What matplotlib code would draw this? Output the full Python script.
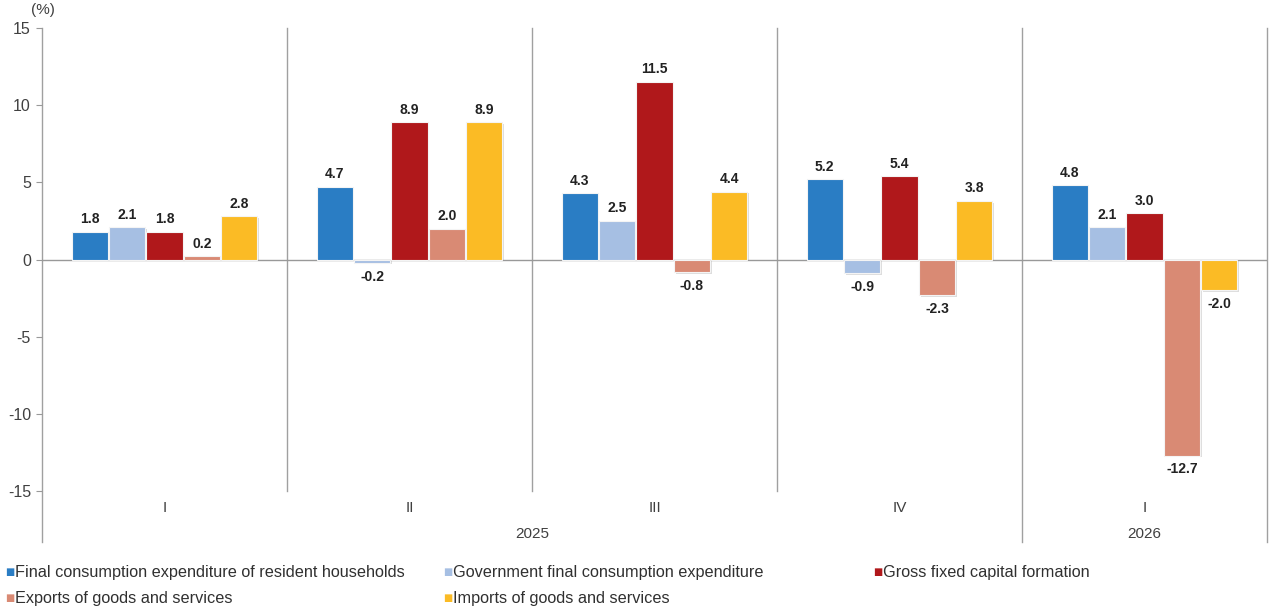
import numpy as np
import matplotlib.pyplot as plt
import matplotlib.patheffects as pe

plt.rcParams['font.family'] = ['Liberation Sans', 'DejaVu Sans']

# --- Data ---
quarters = ['I', 'II', 'III', 'IV', 'I']
years = ['2025', '2026']
series_names = ['Final consumption expenditure of resident households',
                'Government final consumption expenditure',
                'Gross fixed capital formation',
                'Exports of goods and services',
                'Imports of goods and services']
households = [1.8, 4.7, 4.3, 5.2, 4.8]
government = [2.1, -0.2, 2.5, -0.9, 2.1]
gfcf = [1.8, 8.9, 11.5, 5.4, 3.0]
exports = [0.2, 2.0, -0.8, -2.3, -12.7]
imports = [2.8, 8.9, 4.4, 3.8, -2.0]
colors = ['#2a7dc4', '#a6bfe3', '#b0181b', '#d98a74', '#fbbb25']

series = [households, government, gfcf, exports, imports]

# --- Figure ---
fig = plt.figure(figsize=(12.8, 6.11), dpi=100)
ax = fig.add_axes([42 / 1280, 1 - 491 / 611, 1225 / 1280, 463 / 611])

x = np.arange(len(quarters))
slot = 0.153
width = 0.147
shadow = [pe.SimplePatchShadow(offset=(1.2, -1.2), shadow_rgbFace='#909090', alpha=0.3), pe.Normal()]

for j, vals in enumerate(series):
    pos = x + (j - 2) * slot
    bars = ax.bar(pos, vals, width, color=colors[j], edgecolor='#f4f4f4', linewidth=0.8, zorder=3)
    for b in bars:
        b.set_path_effects(shadow)
    for xp, v in zip(pos, vals):
        if v >= 0:
            ax.annotate(f'{v:.1f}', (xp, v), xytext=(0, 4), textcoords='offset points',
                        ha='center', va='bottom', fontsize=10, fontweight='bold', color='#222222')
        else:
            ax.annotate(f'{v:.1f}', (xp, v), xytext=(0, -5), textcoords='offset points',
                        ha='center', va='top', fontsize=10, fontweight='bold', color='#222222')

ax.set_xlim(-0.5, len(quarters) - 0.5)
ax.set_ylim(-15, 15)
ax.set_yticks([-15, -10, -5, 0, 5, 10, 15])
ax.set_yticklabels(['-15', '-10', '-5', '0', '5', '10', '15'])
ax.tick_params(axis='y', length=4, width=0.8, color='#999999', labelsize=11.5, labelcolor='#404040', pad=4)
ax.set_xticks([])
for s in ax.spines.values():
    s.set_visible(False)

# zero line
ax.axhline(0, color='#999999', lw=1, zorder=2)

# frame / separators
xt = ax.get_xaxis_transform()
line_kw = dict(color='#a0a0a0', lw=1, transform=xt, clip_on=False, zorder=1)
ax.plot([-0.5, -0.5], [1, -0.11], **line_kw)
for sep in [0.5, 1.5, 2.5]:
    ax.plot([sep, sep], [1, 0], **line_kw)
for sep in [3.5, 4.5]:
    ax.plot([sep, sep], [1, -0.11], **line_kw)

# category labels
for xi, q in zip(x, quarters):
    ax.text(xi, -0.037, q, transform=xt, ha='center', va='center', fontsize=11, color='#404040')
ax.text(1.5, -0.093, years[0], transform=xt, ha='center', va='center', fontsize=11, color='#404040')
ax.text(4.0, -0.093, years[1], transform=xt, ha='center', va='center', fontsize=11, color='#404040')

fig.text(43 / 1280, 1 - 10 / 611, '(%)', ha='center', va='center', fontsize=11, color='#404040')

# --- Legend ---
leg_pos = [(5, 572), (443, 572), (873, 572), (5, 598), (443, 598)]
for (px, py), name, c in zip(leg_pos, series_names, colors):
    fig.text(px / 1280, 1 - py / 611, '\u25a0', color=c, fontsize=7, ha='left', va='center',
             family='DejaVu Sans')
    fig.text((px + 10) / 1280, 1 - py / 611, name, color='#303030', fontsize=11.7, ha='left', va='center')

fig.savefig('out.png', dpi=100)
